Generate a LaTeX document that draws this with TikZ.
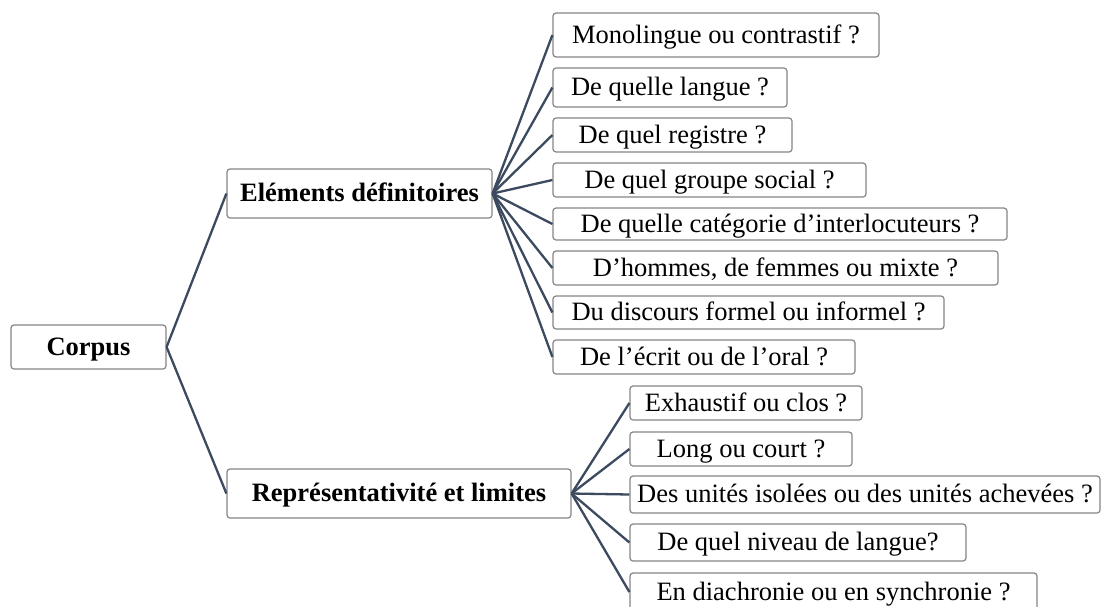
\documentclass[tikz,border=0pt]{standalone}
\usepackage{fontspec}
\setmainfont{Liberation Serif}
\definecolor{linkcol}{HTML}{3B4A5F}
\definecolor{boxcol}{HTML}{858585}
\begin{document}
\begin{tikzpicture}[x=1pt,y=-1pt,
  box/.style={draw=boxcol, line width=1.2pt, rounded corners=3pt, fill=white,
    inner sep=0pt, align=center, text height=20pt, text depth=4pt,
    font=\fontsize{26.5}{30}\selectfont},
  main/.style={box, font=\fontsize{26.5}{30}\selectfont\bfseries},
  link/.style={draw=linkcol, line width=2.3pt}]
\useasboundingbox (0,0) rectangle (1102,606);
\clip (0,0) rectangle (1102,606);
% main nodes
\node[main, minimum width=155pt, minimum height=44pt] (corpus) at (88.5,347) {Corpus};
\node[main, minimum width=265pt, minimum height=49pt] (elem) at (359.5,193.5) {Eléments définitoires};
\node[main, minimum width=344pt, minimum height=49pt] (repr) at (399,493.5) {Représentativité et limites};
% children of elem
\node[box, minimum width=326pt, minimum height=44pt] (m1) at (716,35) {Monolingue ou contrastif ?};
\node[box, minimum width=234pt, minimum height=39pt] (m2) at (670,87.5) {De quelle langue ?};
\node[box, minimum width=239pt, minimum height=34pt] (m3) at (672.5,135) {De quel registre ?};
\node[box, minimum width=313pt, minimum height=34pt] (m4) at (709.5,180) {De quel groupe social ?};
\node[box, minimum width=454pt, minimum height=32pt] (m5) at (780,224) {De quelle catégorie d’interlocuteurs ?};
\node[box, minimum width=445pt, minimum height=34pt] (m6) at (775.5,268) {D’hommes, de femmes ou mixte ?};
\node[box, minimum width=391pt, minimum height=33pt] (m7) at (748.5,312.5) {Du discours formel ou informel ?};
\node[box, minimum width=302pt, minimum height=34pt] (m8) at (704,357) {De l’écrit ou de l’oral ?};
% children of repr
\node[box, minimum width=232pt, minimum height=34pt] (r1) at (746,403) {Exhaustif ou clos ?};
\node[box, minimum width=222pt, minimum height=34pt] (r2) at (741,449) {Long ou court ?};
\node[box, minimum width=470pt, minimum height=37pt] (r3) at (865,494.5) {Des unités isolées ou des unités achevées ?};
\node[box, minimum width=336pt, minimum height=37pt] (r4) at (798,542.5) {De quel niveau de langue?};
\node[box, minimum width=407pt, minimum height=38pt] (r5) at (833.5,592) {En diachronie ou en synchronie ?};
% connectors
\draw[link] (corpus.east) -- (elem.west);
\draw[link] (corpus.east) -- (repr.west);
\foreach \c in {m1,m2,m3,m4,m5,m6,m7,m8}
  \draw[link] (elem.east) -- (\c.west);
\foreach \c in {r1,r2,r3,r4,r5}
  \draw[link] (repr.east) -- (\c.west);
\end{tikzpicture}
\end{document}
